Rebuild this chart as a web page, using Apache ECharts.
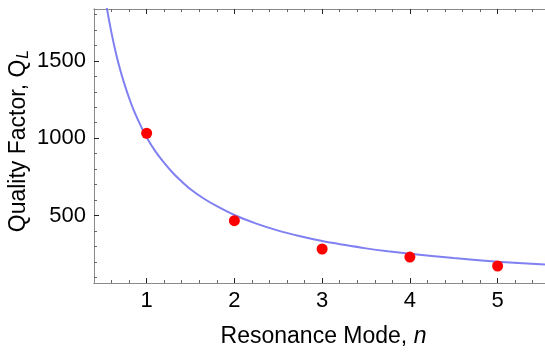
<!DOCTYPE html>
<html>
<head>
<meta charset="utf-8">
<script src="https://cdn.jsdelivr.net/npm/echarts@6/dist/echarts.min.js"></script>
<style>
  html, body { margin: 0; padding: 0; background: #fff; }
  #chart { width: 545px; height: 354px; }
</style>
</head>
<body>
<div id="chart"></div>
<script>
// Measured quality factor for each resonance mode
const modes = [1, 2, 3, 4, 5];
const measuredQ = [1032, 466, 283, 231, 173];

// Fitted trend, sampled along the mode axis
const fitModes = [0.52, 0.55, 0.6, 0.65, 0.7, 0.75, 0.8, 0.85, 0.9, 0.95, 1.0, 1.1, 1.2, 1.3, 1.4, 1.5, 1.65, 1.8, 2.0, 2.25, 2.5, 2.75, 3.0, 3.25, 3.5, 3.75, 4.0, 4.5, 5.0, 5.54];
const fitQ = [1940, 1830, 1680, 1550, 1440, 1345, 1260, 1185, 1120, 1060, 1005, 915, 840, 775, 720, 670, 610, 560, 503, 447, 402, 366, 335, 310, 287, 268, 252, 224, 201, 182];

// Tick positions
const xMajorTicks = [1, 2, 3, 4, 5];
const xMinorTicks = [0.6, 0.8, 1.2, 1.4, 1.6, 1.8, 2.2, 2.4, 2.6, 2.8, 3.2, 3.4, 3.6, 3.8, 4.2, 4.4, 4.6, 4.8, 5.2, 5.4];
const yMajorTicks = [500, 1000, 1500];
const yMinorTicks = [100, 200, 300, 400, 600, 700, 800, 900, 1100, 1200, 1300, 1400, 1600, 1700, 1800];

const X_MIN = 0.4, X_MAX = 5.54;
const Y_MIN = 63, Y_MAX = 1836;

const FONT = '"Liberation Sans", Arial, sans-serif';
const LABEL_SIZE = 22;
const TITLE_SIZE = 23;
const frameColor = '#8a8a8a';
const majorTickColor = '#222222';
const minorTickColor = '#666666';

function plain(v) { return String(v); }

function xAxisDef(position, ticks, len, major, showLabel, extra) {
  return Object.assign({
    type: 'value', position: position, min: X_MIN, max: X_MAX,
    axisLine: { show: true, lineStyle: { color: frameColor, width: 1 } },
    axisTick: { show: true, inside: true, length: len, customValues: ticks,
                lineStyle: { color: major ? majorTickColor : minorTickColor, width: 1 } },
    axisLabel: { show: showLabel, customValues: ticks, color: '#000', formatter: plain,
                 fontFamily: FONT, fontSize: LABEL_SIZE, margin: 7 },
    splitLine: { show: false }
  }, extra || {});
}

function yAxisDef(position, ticks, len, major, showLabel, extra) {
  return Object.assign({
    type: 'value', position: position, min: Y_MIN, max: Y_MAX,
    axisLine: { show: true, lineStyle: { color: frameColor, width: 1 } },
    axisTick: { show: true, inside: true, length: len, customValues: ticks,
                lineStyle: { color: major ? majorTickColor : minorTickColor, width: 1 } },
    axisLabel: { show: showLabel, customValues: ticks, color: '#000', formatter: plain,
                 fontFamily: FONT, fontSize: LABEL_SIZE, margin: 8 },
    splitLine: { show: false }
  }, extra || {});
}

const chart = echarts.init(document.getElementById('chart'), null, { renderer: 'canvas' });

chart.setOption({
  animation: false,
  backgroundColor: '#fff',
  grid: { left: 94, right: 0, top: 9, bottom: 71, containLabel: false, outerBoundsMode: 'none' },
  xAxis: [
    xAxisDef('bottom', xMajorTicks, 5, true, true, {
      name: '{t|Resonance Mode, }{i|n}',
      nameLocation: 'middle', nameGap: 42, nameMoveOverlap: false,
      nameTextStyle: {
        rich: {
          t: { fontFamily: FONT, fontSize: TITLE_SIZE, color: '#000', padding: [0, 0, 0, 8] },
          i: { fontFamily: FONT, fontSize: TITLE_SIZE, color: '#000', fontStyle: 'italic' }
        }
      }
    }),
    xAxisDef('bottom', xMinorTicks, 3, false, false),
    xAxisDef('top', xMajorTicks, 5, true, false),
    xAxisDef('top', xMinorTicks, 3, false, false)
  ],
  yAxis: [
    yAxisDef('left', yMajorTicks, 5, true, true, {
      name: '{t|Quality Factor, Q}{s|L}',
      nameLocation: 'middle', nameGap: 62, nameRotate: 90, nameMoveOverlap: false,
      nameTextStyle: {
        rich: {
          t: { fontFamily: FONT, fontSize: TITLE_SIZE, color: '#000', padding: [0, 0, 0, 10] },
          s: { fontFamily: FONT, fontSize: 16, color: '#000', fontStyle: 'italic',
               padding: [10, 0, 0, 1] }
        }
      }
    }),
    yAxisDef('left', yMinorTicks, 3, false, false)
  ],
  series: [
    {
      type: 'line',
      xAxisIndex: 0, yAxisIndex: 0,
      data: fitModes.map((n, i) => [n, fitQ[i]]),
      smooth: 0.3,
      showSymbol: false,
      clip: true,
      lineStyle: { color: '#8080f2', width: 2 },
      z: 2
    },
    {
      type: 'scatter',
      xAxisIndex: 0, yAxisIndex: 0,
      data: modes.map((n, i) => [n, measuredQ[i]]),
      symbol: 'circle',
      symbolSize: 11,
      itemStyle: { color: '#ff0000', opacity: 1 },
      z: 3
    }
  ]
});
</script>
</body>
</html>
